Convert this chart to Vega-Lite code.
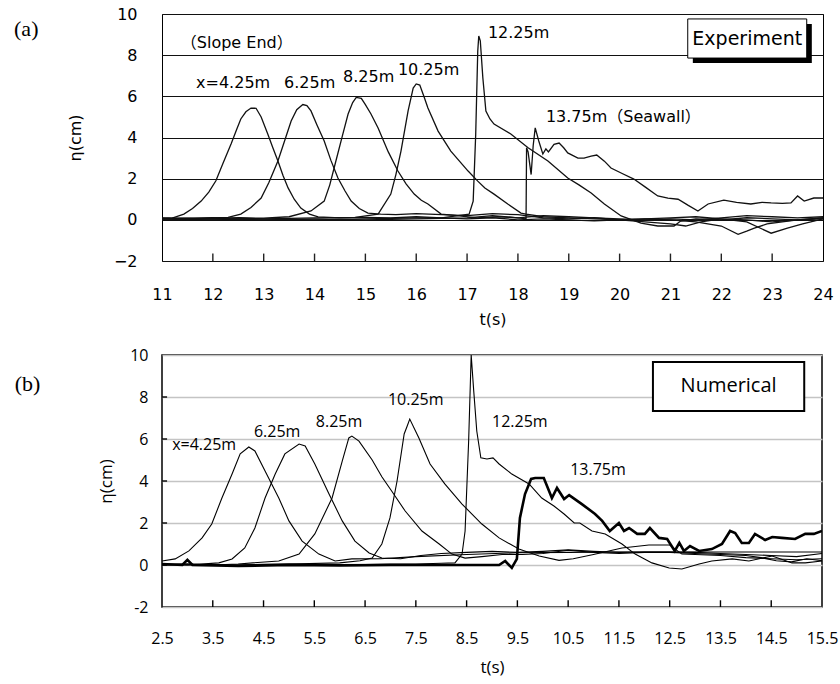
{
"$schema": "https://vega.github.io/schema/vega-lite/v6.json",
"padding": {"left": 13, "top": 5, "right": 2, "bottom": 0},
"spacing": 18,
"background": "#ffffff",
"config": {
 "view": {"stroke": "#000", "strokeWidth": 1},
 "axis": {"labelColor": "#000", "titleColor": "#000", "labelFlush": false, "labelOverlap": false, "titleFontWeight": "normal", "tickColor": "#000"}
},
"datasets": {
 "a": [
  {"s":"4.25","t":11.0,"eta":0.05},{"s":"4.25","t":11.2,"eta":0.08},{"s":"4.25","t":11.43,"eta":0.28},{"s":"4.25","t":11.6,"eta":0.55},{"s":"4.25","t":11.77,"eta":0.91},{"s":"4.25","t":11.92,"eta":1.35},{"s":"4.25","t":12.06,"eta":1.9},{"s":"4.25","t":12.2,"eta":2.75},{"s":"4.25","t":12.36,"eta":3.7},{"s":"4.25","t":12.47,"eta":4.4},{"s":"4.25","t":12.55,"eta":4.9},{"s":"4.25","t":12.65,"eta":5.25},{"s":"4.25","t":12.75,"eta":5.43},{"s":"4.25","t":12.85,"eta":5.42},{"s":"4.25","t":12.95,"eta":5.0},{"s":"4.25","t":13.08,"eta":4.17},{"s":"4.25","t":13.18,"eta":3.5},{"s":"4.25","t":13.28,"eta":2.86},{"s":"4.25","t":13.38,"eta":2.15},{"s":"4.25","t":13.48,"eta":1.55},{"s":"4.25","t":13.6,"eta":1.0},{"s":"4.25","t":13.73,"eta":0.57},{"s":"4.25","t":13.9,"eta":0.28},{"s":"4.25","t":14.07,"eta":0.14},{"s":"4.25","t":14.5,"eta":0.1},{"s":"4.25","t":15.0,"eta":0.12},{"s":"4.25","t":15.5,"eta":0.1},{"s":"4.25","t":16.0,"eta":0.15},{"s":"4.25","t":16.5,"eta":0.1},{"s":"4.25","t":17.0,"eta":0.05},{"s":"4.25","t":17.5,"eta":0.1},{"s":"4.25","t":18.0,"eta":0.0},{"s":"4.25","t":18.5,"eta":0.05},{"s":"4.25","t":19.0,"eta":0.0},{"s":"4.25","t":19.5,"eta":-0.05},{"s":"4.25","t":20.0,"eta":0.0},{"s":"4.25","t":20.5,"eta":0.05},{"s":"4.25","t":21.0,"eta":0.0},{"s":"4.25","t":21.5,"eta":-0.1},{"s":"4.25","t":22.0,"eta":-0.3},{"s":"4.25","t":22.33,"eta":-0.7},{"s":"4.25","t":22.5,"eta":-0.55},{"s":"4.25","t":22.65,"eta":-0.4},{"s":"4.25","t":22.9,"eta":-0.2},{"s":"4.25","t":23.2,"eta":-0.1},{"s":"4.25","t":23.5,"eta":0.0},{"s":"4.25","t":24.0,"eta":0.05},
  {"s":"6.25","t":11.0,"eta":0.08},{"s":"6.25","t":11.5,"eta":0.05},{"s":"6.25","t":12.0,"eta":0.1},{"s":"6.25","t":12.3,"eta":0.12},{"s":"6.25","t":12.55,"eta":0.28},{"s":"6.25","t":12.75,"eta":0.6},{"s":"6.25","t":12.95,"eta":1.06},{"s":"6.25","t":13.1,"eta":1.8},{"s":"6.25","t":13.28,"eta":2.86},{"s":"6.25","t":13.42,"eta":3.9},{"s":"6.25","t":13.54,"eta":4.8},{"s":"6.25","t":13.65,"eta":5.35},{"s":"6.25","t":13.77,"eta":5.6},{"s":"6.25","t":13.85,"eta":5.55},{"s":"6.25","t":13.93,"eta":5.29},{"s":"6.25","t":14.05,"eta":4.6},{"s":"6.25","t":14.19,"eta":3.83},{"s":"6.25","t":14.32,"eta":2.9},{"s":"6.25","t":14.46,"eta":2.03},{"s":"6.25","t":14.6,"eta":1.4},{"s":"6.25","t":14.72,"eta":0.91},{"s":"6.25","t":14.88,"eta":0.55},{"s":"6.25","t":15.05,"eta":0.33},{"s":"6.25","t":15.3,"eta":0.28},{"s":"6.25","t":15.6,"eta":0.25},{"s":"6.25","t":16.0,"eta":0.3},{"s":"6.25","t":16.5,"eta":0.25},{"s":"6.25","t":17.0,"eta":0.2},{"s":"6.25","t":17.5,"eta":0.3},{"s":"6.25","t":18.0,"eta":0.25},{"s":"6.25","t":18.5,"eta":0.1},{"s":"6.25","t":19.0,"eta":0.05},{"s":"6.25","t":19.5,"eta":0.1},{"s":"6.25","t":20.0,"eta":0.0},{"s":"6.25","t":20.5,"eta":-0.1},{"s":"6.25","t":21.0,"eta":-0.2},{"s":"6.25","t":21.3,"eta":-0.3},{"s":"6.25","t":21.6,"eta":-0.1},{"s":"6.25","t":22.0,"eta":0.05},{"s":"6.25","t":22.5,"eta":-0.1},{"s":"6.25","t":22.98,"eta":-0.65},{"s":"6.25","t":23.3,"eta":-0.4},{"s":"6.25","t":23.6,"eta":-0.2},{"s":"6.25","t":23.82,"eta":-0.06},{"s":"6.25","t":24.0,"eta":0.05},
  {"s":"8.25","t":11.0,"eta":0.1},{"s":"8.25","t":11.5,"eta":0.08},{"s":"8.25","t":12.0,"eta":0.05},{"s":"8.25","t":12.5,"eta":0.1},{"s":"8.25","t":13.0,"eta":0.08},{"s":"8.25","t":13.5,"eta":0.15},{"s":"8.25","t":13.93,"eta":0.43},{"s":"8.25","t":14.19,"eta":0.91},{"s":"8.25","t":14.3,"eta":1.7},{"s":"8.25","t":14.42,"eta":2.86},{"s":"8.25","t":14.55,"eta":4.1},{"s":"8.25","t":14.66,"eta":5.14},{"s":"8.25","t":14.75,"eta":5.7},{"s":"8.25","t":14.82,"eta":5.95},{"s":"8.25","t":14.92,"eta":5.9},{"s":"8.25","t":15.0,"eta":5.6},{"s":"8.25","t":15.11,"eta":5.14},{"s":"8.25","t":15.25,"eta":4.46},{"s":"8.25","t":15.45,"eta":3.3},{"s":"8.25","t":15.64,"eta":2.37},{"s":"8.25","t":15.8,"eta":1.75},{"s":"8.25","t":15.96,"eta":1.25},{"s":"8.25","t":16.1,"eta":0.95},{"s":"8.25","t":16.23,"eta":0.77},{"s":"8.25","t":16.49,"eta":0.28},{"s":"8.25","t":16.8,"eta":0.2},{"s":"8.25","t":17.2,"eta":0.1},{"s":"8.25","t":17.6,"eta":0.15},{"s":"8.25","t":18.0,"eta":0.1},{"s":"8.25","t":18.5,"eta":0.2},{"s":"8.25","t":19.0,"eta":0.15},{"s":"8.25","t":19.5,"eta":0.1},{"s":"8.25","t":20.0,"eta":0.05},{"s":"8.25","t":20.5,"eta":0.0},{"s":"8.25","t":21.0,"eta":0.05},{"s":"8.25","t":21.5,"eta":0.0},{"s":"8.25","t":22.0,"eta":0.1},{"s":"8.25","t":22.5,"eta":0.2},{"s":"8.25","t":23.0,"eta":0.15},{"s":"8.25","t":23.5,"eta":0.1},{"s":"8.25","t":24.0,"eta":0.15},
  {"s":"10.25","t":11.0,"eta":0.05},{"s":"10.25","t":12.0,"eta":0.1},{"s":"10.25","t":13.0,"eta":0.05},{"s":"10.25","t":14.0,"eta":0.1},{"s":"10.25","t":14.8,"eta":0.12},{"s":"10.25","t":15.25,"eta":0.28},{"s":"10.25","t":15.5,"eta":1.25},{"s":"10.25","t":15.6,"eta":2.2},{"s":"10.25","t":15.7,"eta":3.34},{"s":"10.25","t":15.84,"eta":5.29},{"s":"10.25","t":15.94,"eta":6.4},{"s":"10.25","t":16.0,"eta":6.6},{"s":"10.25","t":16.07,"eta":6.55},{"s":"10.25","t":16.15,"eta":6.0},{"s":"10.25","t":16.23,"eta":5.43},{"s":"10.25","t":16.43,"eta":4.31},{"s":"10.25","t":16.68,"eta":3.34},{"s":"10.25","t":17.02,"eta":2.37},{"s":"10.25","t":17.21,"eta":1.88},{"s":"10.25","t":17.35,"eta":1.55},{"s":"10.25","t":17.53,"eta":1.25},{"s":"10.25","t":17.8,"eta":0.77},{"s":"10.25","t":18.06,"eta":0.33},{"s":"10.25","t":18.16,"eta":0.28},{"s":"10.25","t":18.5,"eta":0.15},{"s":"10.25","t":19.0,"eta":0.1},{"s":"10.25","t":19.5,"eta":0.05},{"s":"10.25","t":20.0,"eta":0.0},{"s":"10.25","t":20.5,"eta":0.05},{"s":"10.25","t":21.0,"eta":0.1},{"s":"10.25","t":21.5,"eta":0.15},{"s":"10.25","t":22.0,"eta":0.05},{"s":"10.25","t":22.5,"eta":0.0},{"s":"10.25","t":23.0,"eta":-0.1},{"s":"10.25","t":23.5,"eta":0.0},{"s":"10.25","t":24.0,"eta":0.1},
  {"s":"12.25","t":11.0,"eta":0.05},{"s":"12.25","t":12.0,"eta":0.0},{"s":"12.25","t":13.0,"eta":0.05},{"s":"12.25","t":14.0,"eta":0.0},{"s":"12.25","t":15.0,"eta":0.05},{"s":"12.25","t":16.0,"eta":0.1},{"s":"12.25","t":16.5,"eta":0.1},{"s":"12.25","t":17.04,"eta":0.28},{"s":"12.25","t":17.12,"eta":0.91},{"s":"12.25","t":17.17,"eta":4.17},{"s":"12.25","t":17.21,"eta":8.2},{"s":"12.25","t":17.23,"eta":8.93},{"s":"12.25","t":17.26,"eta":8.7},{"s":"12.25","t":17.31,"eta":6.9},{"s":"12.25","t":17.37,"eta":5.29},{"s":"12.25","t":17.45,"eta":4.9},{"s":"12.25","t":17.53,"eta":4.65},{"s":"12.25","t":17.86,"eta":4.17},{"s":"12.25","t":18.2,"eta":3.5},{"s":"12.25","t":18.59,"eta":2.86},{"s":"12.25","t":18.98,"eta":2.03},{"s":"12.25","t":19.2,"eta":1.7},{"s":"12.25","t":19.44,"eta":1.3},{"s":"12.25","t":19.7,"eta":0.77},{"s":"12.25","t":20.03,"eta":0.19},{"s":"12.25","t":20.42,"eta":-0.16},{"s":"12.25","t":20.75,"eta":-0.3},{"s":"12.25","t":21.07,"eta":-0.3},{"s":"12.25","t":21.2,"eta":-0.06},{"s":"12.25","t":21.5,"eta":0.05},{"s":"12.25","t":22.0,"eta":0.0},{"s":"12.25","t":22.5,"eta":0.1},{"s":"12.25","t":23.0,"eta":0.05},{"s":"12.25","t":23.5,"eta":0.0},{"s":"12.25","t":24.0,"eta":0.1},
  {"s":"13.75","t":11.0,"eta":0.0},{"s":"13.75","t":12.0,"eta":0.05},{"s":"13.75","t":13.0,"eta":0.0},{"s":"13.75","t":14.0,"eta":0.05},{"s":"13.75","t":15.0,"eta":0.0},{"s":"13.75","t":16.0,"eta":0.05},{"s":"13.75","t":17.0,"eta":0.1},{"s":"13.75","t":17.5,"eta":0.2},{"s":"13.75","t":18.0,"eta":0.1},{"s":"13.75","t":18.16,"eta":0.05},{"s":"13.75","t":18.17,"eta":3.5},{"s":"13.75","t":18.2,"eta":3.3},{"s":"13.75","t":18.26,"eta":2.2},{"s":"13.75","t":18.3,"eta":3.6},{"s":"13.75","t":18.34,"eta":4.47},{"s":"13.75","t":18.41,"eta":3.83},{"s":"13.75","t":18.49,"eta":3.2},{"s":"13.75","t":18.55,"eta":3.45},{"s":"13.75","t":18.6,"eta":3.3},{"s":"13.75","t":18.71,"eta":3.67},{"s":"13.75","t":18.81,"eta":3.73},{"s":"13.75","t":18.9,"eta":3.5},{"s":"13.75","t":18.98,"eta":3.25},{"s":"13.75","t":19.18,"eta":3.0},{"s":"13.75","t":19.3,"eta":3.0},{"s":"13.75","t":19.44,"eta":3.1},{"s":"13.75","t":19.55,"eta":3.15},{"s":"13.75","t":19.7,"eta":2.85},{"s":"13.75","t":19.83,"eta":2.52},{"s":"13.75","t":20.05,"eta":2.25},{"s":"13.75","t":20.28,"eta":1.98},{"s":"13.75","t":20.5,"eta":1.6},{"s":"13.75","t":20.75,"eta":1.16},{"s":"13.75","t":20.95,"eta":1.05},{"s":"13.75","t":21.15,"eta":1.0},{"s":"13.75","t":21.35,"eta":0.7},{"s":"13.75","t":21.54,"eta":0.43},{"s":"13.75","t":21.74,"eta":0.77},{"s":"13.75","t":22.05,"eta":0.96},{"s":"13.75","t":22.3,"eta":0.85},{"s":"13.75","t":22.58,"eta":0.77},{"s":"13.75","t":22.8,"eta":0.85},{"s":"13.75","t":22.98,"eta":0.82},{"s":"13.75","t":23.2,"eta":0.8},{"s":"13.75","t":23.37,"eta":0.82},{"s":"13.75","t":23.5,"eta":1.16},{"s":"13.75","t":23.63,"eta":0.91},{"s":"13.75","t":23.82,"eta":1.06},{"s":"13.75","t":24.0,"eta":1.06}
 ],
 "b": [
  {"s":"4.25","t":2.5,"eta":0.19},{"s":"4.25","t":2.76,"eta":0.29},{"s":"4.25","t":3.03,"eta":0.67},{"s":"4.25","t":3.29,"eta":1.29},{"s":"4.25","t":3.48,"eta":1.95},{"s":"4.25","t":3.68,"eta":3.19},{"s":"4.25","t":3.88,"eta":4.33},{"s":"4.25","t":4.04,"eta":5.29},{"s":"4.25","t":4.21,"eta":5.62},{"s":"4.25","t":4.33,"eta":5.43},{"s":"4.25","t":4.53,"eta":4.48},{"s":"4.25","t":4.8,"eta":3.19},{"s":"4.25","t":5.0,"eta":2.1},{"s":"4.25","t":5.26,"eta":1.14},{"s":"4.25","t":5.59,"eta":0.52},{"s":"4.25","t":5.91,"eta":0.19},{"s":"4.25","t":6.24,"eta":0.29},{"s":"4.25","t":6.8,"eta":0.3},{"s":"4.25","t":7.5,"eta":0.4},{"s":"4.25","t":8.5,"eta":0.5},{"s":"4.25","t":9.5,"eta":0.58},{"s":"4.25","t":10.5,"eta":0.6},{"s":"4.25","t":11.5,"eta":0.62},{"s":"4.25","t":12.5,"eta":0.62},{"s":"4.25","t":13.5,"eta":0.62},{"s":"4.25","t":14.5,"eta":0.62},{"s":"4.25","t":15.5,"eta":0.62},
  {"s":"6.25","t":2.5,"eta":0.05},{"s":"6.25","t":3.0,"eta":0.0},{"s":"6.25","t":3.62,"eta":0.1},{"s":"6.25","t":3.88,"eta":0.29},{"s":"6.25","t":4.13,"eta":0.81},{"s":"6.25","t":4.33,"eta":1.76},{"s":"6.25","t":4.53,"eta":3.19},{"s":"6.25","t":4.73,"eta":4.33},{"s":"6.25","t":4.92,"eta":5.29},{"s":"6.25","t":5.2,"eta":5.76},{"s":"6.25","t":5.32,"eta":5.67},{"s":"6.25","t":5.51,"eta":4.81},{"s":"6.25","t":5.79,"eta":3.38},{"s":"6.25","t":6.05,"eta":2.1},{"s":"6.25","t":6.3,"eta":1.14},{"s":"6.25","t":6.58,"eta":0.57},{"s":"6.25","t":6.83,"eta":0.33},{"s":"6.25","t":7.2,"eta":0.3},{"s":"6.25","t":7.6,"eta":0.45},{"s":"6.25","t":8.0,"eta":0.55},{"s":"6.25","t":8.5,"eta":0.6},{"s":"6.25","t":9.0,"eta":0.65},{"s":"6.25","t":9.5,"eta":0.6},{"s":"6.25","t":10.0,"eta":0.65},{"s":"6.25","t":10.5,"eta":0.72},{"s":"6.25","t":11.0,"eta":0.65},{"s":"6.25","t":11.5,"eta":0.6},{"s":"6.25","t":12.0,"eta":0.62},{"s":"6.25","t":12.5,"eta":0.62},{"s":"6.25","t":13.0,"eta":0.6},{"s":"6.25","t":13.5,"eta":0.55},{"s":"6.25","t":14.0,"eta":0.5},{"s":"6.25","t":14.5,"eta":0.45},{"s":"6.25","t":15.0,"eta":0.4},{"s":"6.25","t":15.5,"eta":0.55},
  {"s":"8.25","t":2.5,"eta":0.05},{"s":"8.25","t":3.0,"eta":0.05},{"s":"8.25","t":3.5,"eta":0.0},{"s":"8.25","t":4.0,"eta":0.05},{"s":"8.25","t":4.8,"eta":0.19},{"s":"8.25","t":5.2,"eta":0.52},{"s":"8.25","t":5.51,"eta":1.48},{"s":"8.25","t":5.85,"eta":3.19},{"s":"8.25","t":6.05,"eta":4.95},{"s":"8.25","t":6.18,"eta":6.05},{"s":"8.25","t":6.24,"eta":6.14},{"s":"8.25","t":6.38,"eta":5.9},{"s":"8.25","t":6.64,"eta":5.0},{"s":"8.25","t":6.83,"eta":4.2},{"s":"8.25","t":7.03,"eta":3.5},{"s":"8.25","t":7.29,"eta":2.57},{"s":"8.25","t":7.62,"eta":1.62},{"s":"8.25","t":7.96,"eta":1.0},{"s":"8.25","t":8.21,"eta":0.52},{"s":"8.25","t":8.47,"eta":0.33},{"s":"8.25","t":8.8,"eta":0.4},{"s":"8.25","t":9.2,"eta":0.5},{"s":"8.25","t":9.6,"eta":0.5},{"s":"8.25","t":10.0,"eta":0.55},{"s":"8.25","t":10.5,"eta":0.7},{"s":"8.25","t":11.0,"eta":0.6},{"s":"8.25","t":11.5,"eta":0.55},{"s":"8.25","t":12.0,"eta":0.6},{"s":"8.25","t":12.5,"eta":0.6},{"s":"8.25","t":13.0,"eta":0.55},{"s":"8.25","t":13.5,"eta":0.5},{"s":"8.25","t":14.0,"eta":0.45},{"s":"8.25","t":14.3,"eta":0.35},{"s":"8.25","t":14.6,"eta":0.2},{"s":"8.25","t":14.9,"eta":0.15},{"s":"8.25","t":15.2,"eta":0.3},{"s":"8.25","t":15.5,"eta":0.2},
  {"s":"10.25","t":2.5,"eta":0.0},{"s":"10.25","t":3.0,"eta":0.05},{"s":"10.25","t":4.0,"eta":0.0},{"s":"10.25","t":5.0,"eta":0.05},{"s":"10.25","t":6.0,"eta":0.1},{"s":"10.25","t":6.4,"eta":0.2},{"s":"10.25","t":6.64,"eta":0.33},{"s":"10.25","t":6.83,"eta":1.0},{"s":"10.25","t":6.99,"eta":2.24},{"s":"10.25","t":7.13,"eta":4.0},{"s":"10.25","t":7.27,"eta":6.24},{"s":"10.25","t":7.33,"eta":6.62},{"s":"10.25","t":7.38,"eta":6.95},{"s":"10.25","t":7.56,"eta":6.05},{"s":"10.25","t":7.78,"eta":4.81},{"s":"10.25","t":8.07,"eta":3.86},{"s":"10.25","t":8.41,"eta":2.9},{"s":"10.25","t":8.8,"eta":1.95},{"s":"10.25","t":9.14,"eta":1.29},{"s":"10.25","t":9.53,"eta":0.76},{"s":"10.25","t":9.93,"eta":0.43},{"s":"10.25","t":10.32,"eta":0.22},{"s":"10.25","t":10.6,"eta":0.3},{"s":"10.25","t":11.0,"eta":0.5},{"s":"10.25","t":11.56,"eta":0.81},{"s":"10.25","t":12.09,"eta":0.95},{"s":"10.25","t":12.5,"eta":0.95},{"s":"10.25","t":12.74,"eta":0.52},{"s":"10.25","t":13.0,"eta":0.5},{"s":"10.25","t":13.5,"eta":0.45},{"s":"10.25","t":14.0,"eta":0.35},{"s":"10.25","t":14.5,"eta":0.3},{"s":"10.25","t":15.0,"eta":0.25},{"s":"10.25","t":15.5,"eta":0.3},
  {"s":"12.25","t":2.5,"eta":0.0},{"s":"12.25","t":4.0,"eta":0.0},{"s":"12.25","t":5.0,"eta":0.05},{"s":"12.25","t":6.0,"eta":0.0},{"s":"12.25","t":7.0,"eta":0.05},{"s":"12.25","t":7.5,"eta":0.05},{"s":"12.25","t":8.0,"eta":0.08},{"s":"12.25","t":8.27,"eta":0.1},{"s":"12.25","t":8.41,"eta":0.52},{"s":"12.25","t":8.47,"eta":1.62},{"s":"12.25","t":8.54,"eta":5.9},{"s":"12.25","t":8.59,"eta":10.0},{"s":"12.25","t":8.64,"eta":8.29},{"s":"12.25","t":8.7,"eta":6.38},{"s":"12.25","t":8.78,"eta":5.1},{"s":"12.25","t":8.9,"eta":5.05},{"s":"12.25","t":9.02,"eta":5.1},{"s":"12.25","t":9.14,"eta":4.81},{"s":"12.25","t":9.39,"eta":4.33},{"s":"12.25","t":9.73,"eta":3.86},{"s":"12.25","t":9.98,"eta":3.19},{"s":"12.25","t":10.22,"eta":2.81},{"s":"12.25","t":10.42,"eta":2.43},{"s":"12.25","t":10.62,"eta":2.0},{"s":"12.25","t":10.73,"eta":2.0},{"s":"12.25","t":10.97,"eta":1.62},{"s":"12.25","t":11.23,"eta":1.48},{"s":"12.25","t":11.56,"eta":1.0},{"s":"12.25","t":11.82,"eta":0.52},{"s":"12.25","t":12.15,"eta":0.1},{"s":"12.25","t":12.49,"eta":-0.14},{"s":"12.25","t":12.74,"eta":-0.19},{"s":"12.25","t":13.08,"eta":0.05},{"s":"12.25","t":13.33,"eta":0.19},{"s":"12.25","t":13.73,"eta":0.29},{"s":"12.25","t":14.06,"eta":0.19},{"s":"12.25","t":14.52,"eta":0.43},{"s":"12.25","t":14.91,"eta":0.1},{"s":"12.25","t":15.17,"eta":0.1},{"s":"12.25","t":15.5,"eta":0.19}
 ],
 "bt": [
  {"s":"13.75","t":2.5,"eta":0.05},{"s":"13.75","t":2.9,"eta":0.0},{"s":"13.75","t":3.0,"eta":0.25},{"s":"13.75","t":3.1,"eta":0.0},{"s":"13.75","t":4.0,"eta":-0.05},{"s":"13.75","t":5.0,"eta":0.0},{"s":"13.75","t":6.0,"eta":-0.02},{"s":"13.75","t":7.0,"eta":0.0},{"s":"13.75","t":8.0,"eta":0.0},{"s":"13.75","t":9.14,"eta":0.0},{"s":"13.75","t":9.26,"eta":0.19},{"s":"13.75","t":9.39,"eta":-0.14},{"s":"13.75","t":9.49,"eta":0.29},{"s":"13.75","t":9.55,"eta":2.24},{"s":"13.75","t":9.65,"eta":3.38},{"s":"13.75","t":9.77,"eta":4.1},{"s":"13.75","t":9.85,"eta":4.14},{"s":"13.75","t":10.02,"eta":4.14},{"s":"13.75","t":10.18,"eta":3.19},{"s":"13.75","t":10.28,"eta":3.67},{"s":"13.75","t":10.42,"eta":3.14},{"s":"13.75","t":10.52,"eta":3.33},{"s":"13.75","t":10.77,"eta":2.9},{"s":"13.75","t":11.03,"eta":2.43},{"s":"13.75","t":11.17,"eta":2.1},{"s":"13.75","t":11.32,"eta":1.62},{"s":"13.75","t":11.5,"eta":2.0},{"s":"13.75","t":11.6,"eta":1.62},{"s":"13.75","t":11.7,"eta":1.76},{"s":"13.75","t":11.86,"eta":1.48},{"s":"13.75","t":12.01,"eta":1.48},{"s":"13.75","t":12.11,"eta":1.76},{"s":"13.75","t":12.29,"eta":1.29},{"s":"13.75","t":12.45,"eta":1.24},{"s":"13.75","t":12.6,"eta":0.67},{"s":"13.75","t":12.69,"eta":1.05},{"s":"13.75","t":12.78,"eta":0.67},{"s":"13.75","t":12.9,"eta":0.9},{"s":"13.75","t":13.08,"eta":0.67},{"s":"13.75","t":13.33,"eta":0.76},{"s":"13.75","t":13.53,"eta":1.0},{"s":"13.75","t":13.69,"eta":1.62},{"s":"13.75","t":13.79,"eta":1.52},{"s":"13.75","t":13.92,"eta":1.05},{"s":"13.75","t":14.06,"eta":1.05},{"s":"13.75","t":14.18,"eta":1.48},{"s":"13.75","t":14.38,"eta":1.19},{"s":"13.75","t":14.52,"eta":1.33},{"s":"13.75","t":14.71,"eta":1.29},{"s":"13.75","t":14.97,"eta":1.24},{"s":"13.75","t":15.17,"eta":1.48},{"s":"13.75","t":15.34,"eta":1.48},{"s":"13.75","t":15.5,"eta":1.62}
 ],
 "la": [
  {"t":11.37,"eta":8.59,"label":"（Slope End）"},
  {"t":11.67,"eta":6.65,"label":"x=4.25m"},
  {"t":13.4,"eta":6.65,"label":"6.25m"},
  {"t":14.56,"eta":6.94,"label":"8.25m"},
  {"t":15.64,"eta":7.28,"label":"10.25m"},
  {"t":17.41,"eta":9.08,"label":"12.25m"},
  {"t":18.55,"eta":5.0,"label":"13.75m（Seawall）"}
 ],
 "lb": [
  {"t":2.7,"eta":5.71,"label":"x=4.25m"},
  {"t":4.31,"eta":6.33,"label":"6.25m"},
  {"t":5.53,"eta":6.81,"label":"8.25m"},
  {"t":6.95,"eta":7.86,"label":"10.25m"},
  {"t":9.0,"eta":6.81,"label":"12.25m"},
  {"t":10.54,"eta":4.52,"label":"13.75m"}
 ],
 "sa": [{"t":21.44,"t2":23.78,"eta":9.51,"eta2":7.62}],
 "ba": [{"t":21.34,"t2":23.68,"eta":9.76,"eta2":7.86}],
 "ta": [{"t":22.51,"eta":8.8,"label":"Experiment"}],
 "bb": [{"t":12.17,"t2":15.15,"eta":9.67,"eta2":7.33}],
 "tb": [{"t":13.66,"eta":8.52,"label":"Numerical"}],
 "pa": [{"t":8.09,"eta":9.27,"label":"(a)"}],
 "pb": [{"t":-0.4,"eta":8.62,"label":"(b)"}],
 "xa": [{"t":12,"lo":-2,"hi":-1.64},{"t":13,"lo":-2,"hi":-1.64},{"t":14,"lo":-2,"hi":-1.64},{"t":15,"lo":-2,"hi":-1.64},{"t":16,"lo":-2,"hi":-1.64},{"t":17,"lo":-2,"hi":-1.64},{"t":18,"lo":-2,"hi":-1.64},{"t":19,"lo":-2,"hi":-1.64},{"t":20,"lo":-2,"hi":-1.64},{"t":21,"lo":-2,"hi":-1.64},{"t":22,"lo":-2,"hi":-1.64},{"t":23,"lo":-2,"hi":-1.64}],
 "xb": [{"t":3.5,"lo":-2,"hi":-1.68},{"t":4.5,"lo":-2,"hi":-1.68},{"t":5.5,"lo":-2,"hi":-1.68},{"t":6.5,"lo":-2,"hi":-1.68},{"t":7.5,"lo":-2,"hi":-1.68},{"t":8.5,"lo":-2,"hi":-1.68},{"t":9.5,"lo":-2,"hi":-1.68},{"t":10.5,"lo":-2,"hi":-1.68},{"t":11.5,"lo":-2,"hi":-1.68},{"t":12.5,"lo":-2,"hi":-1.68},{"t":13.5,"lo":-2,"hi":-1.68},{"t":14.5,"lo":-2,"hi":-1.68}],
 "yb": [{"eta":0,"t":2.5,"t2":2.6},{"eta":2,"t":2.5,"t2":2.6},{"eta":4,"t":2.5,"t2":2.6},{"eta":6,"t":2.5,"t2":2.6},{"eta":8,"t":2.5,"t2":2.6}]
},
"vconcat": [
 {
  "width": 661, "height": 247,
  "view": {"stroke": "#000", "strokeWidth": 1},
  "encoding": {
   "x": {"field": "t", "type": "quantitative", "scale": {"domain": [11, 24], "nice": false, "zero": false},
    "axis": {"values": [11,12,13,14,15,16,17,18,19,20,21,22,23,24], "title": "t(s)", "grid": false, "domain": false, "ticks": false, "labelPadding": 25, "labelFont": "DejaVu Sans", "labelFontSize": 16, "titleFont": "DejaVu Sans", "titleFontSize": 16, "titlePadding": 9}},
   "y": {"field": "eta", "type": "quantitative", "scale": {"domain": [-2, 10], "nice": false, "zero": false},
    "axis": {"values": [-2,0,2,4,6,8,10], "title": "η(cm)", "grid": true, "gridColor": "#111", "gridWidth": 1, "gridOpacity": 1, "ticks": false, "domain": false, "labelPadding": 25, "labelFont": "DejaVu Sans", "labelFontSize": 16, "titleFont": "DejaVu Sans", "titleFontSize": 16, "titlePadding": 30}}
  },
  "layer": [
   {"data": {"name": "a"}, "mark": {"type": "line", "color": "#111", "strokeWidth": 1.3, "clip": true},
    "encoding": {"detail": {"field": "s", "type": "nominal"}}},
   {"data": {"name": "sa"}, "mark": {"type": "rect", "fill": "#000"},
    "encoding": {"x2": {"field": "t2"}, "y2": {"field": "eta2"}}},
   {"data": {"name": "ba"}, "mark": {"type": "rect", "fill": "#fff", "stroke": "#000", "strokeWidth": 1},
    "encoding": {"x2": {"field": "t2"}, "y2": {"field": "eta2"}}},
   {"data": {"name": "ta"}, "mark": {"type": "text", "font": "DejaVu Sans", "fontSize": 19, "align": "center", "baseline": "middle", "color": "#000"},
    "encoding": {"text": {"field": "label"}}},
   {"data": {"name": "la"}, "mark": {"type": "text", "font": "DejaVu Sans, Noto Sans CJK JP", "fontSize": 16, "align": "left", "baseline": "middle", "color": "#000"},
    "encoding": {"text": {"field": "label"}}},
   {"data": {"name": "pa"}, "mark": {"type": "text", "font": "Liberation Serif", "fontSize": 22, "align": "left", "baseline": "middle", "color": "#000"},
    "encoding": {"text": {"field": "label"}}},
   {"data": {"name": "xa"}, "mark": {"type": "rule", "color": "#222", "strokeWidth": 1.4},
    "encoding": {"y": {"field": "lo", "type": "quantitative"}, "y2": {"field": "hi"}}}
  ]
 },
 {
  "width": 660, "height": 252,
  "view": {"stroke": "#000", "strokeWidth": 1.5},
  "encoding": {
   "x": {"field": "t", "type": "quantitative", "scale": {"domain": [2.5, 15.5], "nice": false, "zero": false},
    "axis": {"values": [2.5,3.5,4.5,5.5,6.5,7.5,8.5,9.5,10.5,11.5,12.5,13.5,14.5,15.5], "format": ".1f", "title": "t(s)", "grid": false, "domain": false, "ticks": false, "labelPadding": 23, "labelFont": "Open Sans", "labelFontSize": 16, "titleFont": "Open Sans", "titleFontSize": 17, "titlePadding": 13}},
   "y": {"field": "eta", "type": "quantitative", "scale": {"domain": [-2, 10], "nice": false, "zero": false},
    "axis": {"values": [-2,0,2,4,6,8,10], "title": "η(cm)", "grid": true, "gridColor": "#c4c4c4", "gridWidth": 1.5, "gridOpacity": 1, "ticks": false, "domain": false, "labelPadding": 14, "labelExpr": "replace(datum.label, '−', '-')", "labelFont": "Open Sans", "labelFontSize": 16, "titleFont": "Open Sans", "titleFontSize": 17, "titlePadding": 14}}
  },
  "layer": [
   {"data": {"name": "b"}, "mark": {"type": "line", "color": "#000", "strokeWidth": 1.1, "clip": true},
    "encoding": {"detail": {"field": "s", "type": "nominal"}}},
   {"data": {"name": "bt"}, "mark": {"type": "line", "color": "#000", "strokeWidth": 2.6, "clip": true},
    "encoding": {}},
   {"data": {"name": "bb"}, "mark": {"type": "rect", "fill": "#fff", "stroke": "#000", "strokeWidth": 2},
    "encoding": {"x2": {"field": "t2"}, "y2": {"field": "eta2"}}},
   {"data": {"name": "tb"}, "mark": {"type": "text", "font": "Open Sans", "fontSize": 20, "align": "center", "baseline": "middle", "color": "#000"},
    "encoding": {"text": {"field": "label"}}},
   {"data": {"name": "lb"}, "mark": {"type": "text", "font": "Open Sans", "fontSize": 16, "align": "left", "baseline": "middle", "color": "#000"},
    "encoding": {"text": {"field": "label"}}},
   {"data": {"name": "pb"}, "mark": {"type": "text", "font": "Liberation Serif", "fontSize": 22, "align": "left", "baseline": "middle", "color": "#000"},
    "encoding": {"text": {"field": "label"}}},
   {"data": {"name": "xb"}, "mark": {"type": "rule", "color": "#000", "strokeWidth": 1.4},
    "encoding": {"y": {"field": "lo", "type": "quantitative"}, "y2": {"field": "hi"}}},
   {"data": {"name": "yb"}, "mark": {"type": "rule", "color": "#000", "strokeWidth": 1.4},
    "encoding": {"x2": {"field": "t2"}}}
  ]
 }
]
}
